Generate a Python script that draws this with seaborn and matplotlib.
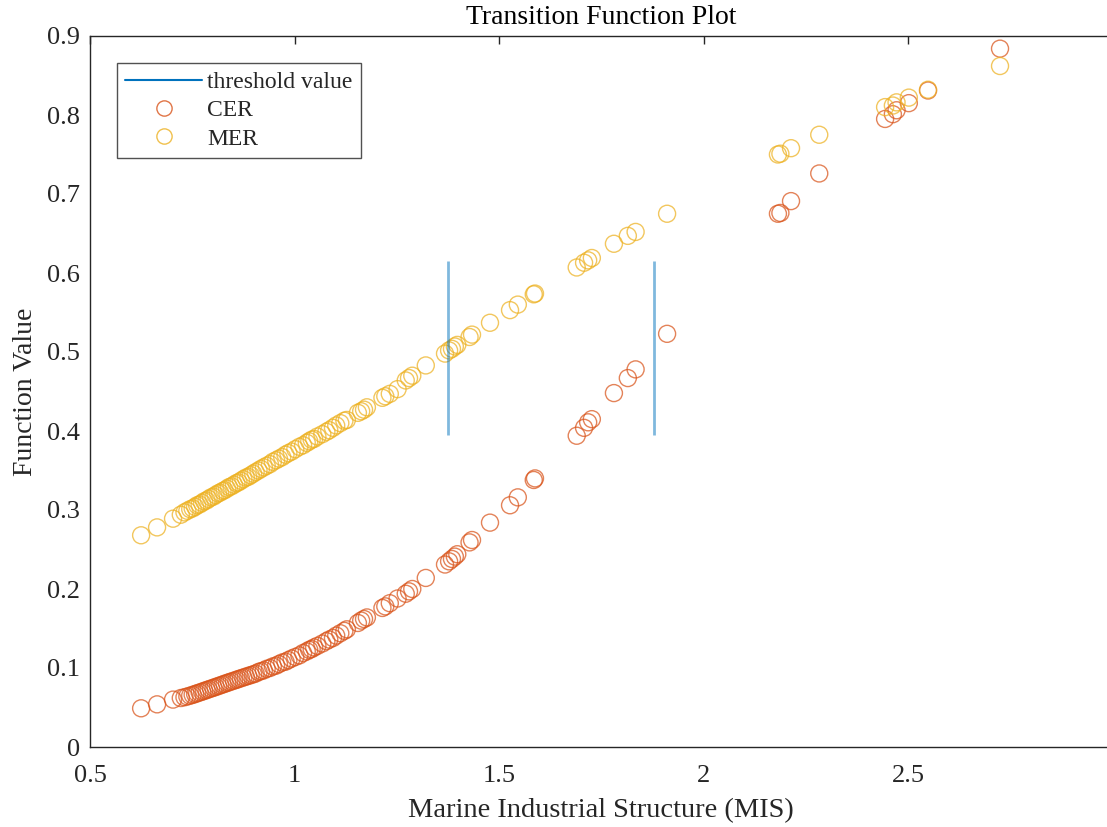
import matplotlib
matplotlib.use("Agg")
import matplotlib.pyplot as plt
from matplotlib.lines import Line2D
import seaborn as sns
import pandas as pd

# ---- data ----
mis = [0.625, 0.664, 0.703, 0.722, 0.731, 0.738, 0.745, 0.751, 0.757, 0.762,
       0.768, 0.774, 0.779, 0.785, 0.790, 0.796, 0.802, 0.807, 0.813, 0.818,
       0.824, 0.829, 0.835, 0.840, 0.846, 0.852, 0.858, 0.863, 0.869, 0.875,
       0.881, 0.887, 0.893, 0.899, 0.905, 0.912, 0.918, 0.925, 0.932, 0.940,
       0.947, 0.955, 0.962, 0.970, 0.978, 0.985, 0.993, 1.002, 1.012, 1.021,
       1.030, 1.036, 1.042, 1.048, 1.056, 1.068, 1.078, 1.085, 1.094, 1.102,
       1.112, 1.122, 1.128, 1.155, 1.163, 1.170, 1.177, 1.215, 1.222, 1.233,
       1.252, 1.272, 1.280, 1.288, 1.321, 1.368, 1.378, 1.385, 1.392, 1.398,
       1.428, 1.434, 1.478, 1.527, 1.546, 1.585, 1.588, 1.690, 1.708, 1.718,
       1.727, 1.781, 1.815, 1.834, 1.911, 2.182, 2.188, 2.214, 2.283, 2.444,
       2.463, 2.472, 2.502, 2.549, 2.725]

cer = [0.049, 0.054, 0.060, 0.062, 0.063, 0.064, 0.065, 0.066, 0.067, 0.068,
       0.069, 0.070, 0.071, 0.072, 0.073, 0.074, 0.075, 0.076, 0.077, 0.078,
       0.079, 0.080, 0.081, 0.082, 0.083, 0.084, 0.085, 0.086, 0.087, 0.088,
       0.089, 0.090, 0.091, 0.092, 0.093, 0.095, 0.096, 0.097, 0.099, 0.100,
       0.102, 0.103, 0.105, 0.107, 0.108, 0.110, 0.112, 0.114, 0.116, 0.119,
       0.121, 0.123, 0.124, 0.126, 0.128, 0.131, 0.134, 0.136, 0.138, 0.141,
       0.144, 0.147, 0.149, 0.157, 0.160, 0.162, 0.164, 0.176, 0.178, 0.182,
       0.188, 0.194, 0.197, 0.200, 0.214, 0.231, 0.235, 0.238, 0.241, 0.244,
       0.259, 0.262, 0.284, 0.306, 0.316, 0.338, 0.340, 0.394, 0.404, 0.411,
       0.415, 0.448, 0.467, 0.478, 0.523, 0.675, 0.676, 0.691, 0.726, 0.795,
       0.801, 0.806, 0.815, 0.831, 0.884]

mer = [0.268, 0.278, 0.289, 0.294, 0.297, 0.299, 0.301, 0.302, 0.304, 0.306,
       0.307, 0.309, 0.311, 0.312, 0.314, 0.316, 0.317, 0.319, 0.321, 0.322,
       0.324, 0.325, 0.327, 0.329, 0.330, 0.332, 0.334, 0.335, 0.337, 0.339,
       0.341, 0.342, 0.344, 0.346, 0.348, 0.350, 0.352, 0.354, 0.356, 0.358,
       0.361, 0.363, 0.365, 0.367, 0.370, 0.372, 0.374, 0.377, 0.380, 0.382,
       0.385, 0.387, 0.389, 0.390, 0.393, 0.396, 0.399, 0.401, 0.404, 0.407,
       0.410, 0.413, 0.414, 0.423, 0.425, 0.427, 0.430, 0.442, 0.444, 0.447,
       0.453, 0.464, 0.467, 0.470, 0.483, 0.498, 0.502, 0.504, 0.507, 0.509,
       0.519, 0.522, 0.537, 0.553, 0.560, 0.573, 0.574, 0.607, 0.613, 0.616,
       0.619, 0.637, 0.647, 0.652, 0.675, 0.750, 0.751, 0.758, 0.775, 0.810,
       0.812, 0.816, 0.822, 0.832, 0.862]

threshold_x = [1.376, 1.878]
threshold_ymin = [0.395, 0.395]
threshold_ymax = [0.615, 0.615]

series_names = ["CER", "MER"]
x_ticks = [0.5, 1, 1.5, 2, 2.5]
x_tick_labels = ["0.5", "1", "1.5", "2", "2.5"]
y_ticks = [0, 0.1, 0.2, 0.3, 0.4, 0.5, 0.6, 0.7, 0.8, 0.9]
y_tick_labels = ["0", "0.1", "0.2", "0.3", "0.4", "0.5", "0.6", "0.7", "0.8", "0.9"]

# ---- styling ----
sns.set_theme(style="white")
plt.rcParams["font.family"] = ["Liberation Serif", "DejaVu Serif"]

C_CER = "#D95319"
C_MER = "#EDB120"
C_THR = "#0072BD"
AX_C = "#262626"

df = pd.DataFrame({
    "MIS": mis * 2,
    "value": cer + mer,
    "series": [series_names[0]] * len(mis) + [series_names[1]] * len(mis),
})

fig = plt.figure(figsize=(11.07, 8.27), dpi=100)
ax = fig.add_axes([90 / 1107, 1 - 747 / 827, 1022.5 / 1107, 711 / 827])

sns.scatterplot(data=df, x="MIS", y="value", hue="series",
                palette={"CER": C_CER, "MER": C_MER}, ax=ax,
                marker="o", s=150, linewidth=1.0,
                alpha=0.72, legend=False)
# make the markers hollow
for coll in ax.collections:
    fc = coll.get_facecolors()
    coll.set_edgecolors(fc)
    coll.set_facecolors("none")

ax.vlines(threshold_x, threshold_ymin, threshold_ymax, colors=C_THR,
          linewidth=2.0, alpha=0.5)

ax.set_xlim(0.5, 3.0)
ax.set_ylim(0, 0.9)
ax.set_xticks(x_ticks)
ax.set_xticklabels(x_tick_labels)
ax.set_yticks(y_ticks)
ax.set_yticklabels(y_tick_labels)
ax.tick_params(direction="in", length=6, width=1.0, colors=AX_C,
               labelsize=19, top=True, right=False, pad=7)
ax.tick_params(axis="x", pad=13)
for sp in ax.spines.values():
    sp.set_visible(True)
    sp.set_color(AX_C)
    sp.set_linewidth(1.0)

ax.set_xlabel("Marine Industrial Structure (MIS)", fontsize=20.5, color=AX_C, labelpad=8)
ax.set_ylabel("Function Value", fontsize=20, color=AX_C, labelpad=6.5)
ax.set_title("Transition Function Plot", fontsize=20, color="black", pad=9)

handles = [
    Line2D([0], [0], color=C_THR, linewidth=1.5, label="threshold value"),
    Line2D([0], [0], color=C_CER, marker="o", linestyle="none", markersize=11,
           markerfacecolor="none", markeredgewidth=1.0, alpha=0.8, label="CER"),
    Line2D([0], [0], color=C_MER, marker="o", linestyle="none", markersize=11,
           markerfacecolor="none", markeredgewidth=1.0, alpha=0.8, label="MER"),
]
leg = ax.legend(handles=handles, loc="upper left",
                bbox_to_anchor=((117 - 90) / 1022.5, (747 - 63) / 711),
                fontsize=17, frameon=True, fancybox=False, borderpad=0.35,
                labelspacing=0.29, handlelength=3.25, handletextpad=0.22,
                borderaxespad=0)
leg.get_frame().set_edgecolor(AX_C)
leg.get_frame().set_linewidth(1.0)

fig.savefig("out.png", dpi=100)
